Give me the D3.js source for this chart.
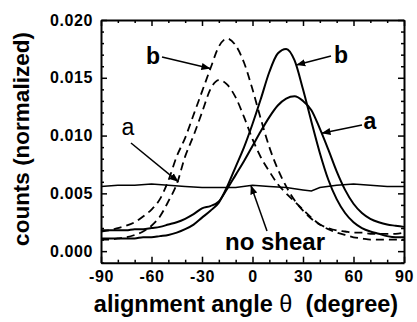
<!DOCTYPE html>
<html>
<head>
<meta charset="utf-8">
<script src="https://cdn.jsdelivr.net/npm/d3@7"></script>
<style>
  body { margin: 0; background: #fff; }
  text { font-family: "Liberation Sans", Arial, sans-serif; }
</style>
</head>
<body>
<script>
// angle samples (degree)
const angles = d3.range(-90, 91, 5)

// one value per angle
const solidA  = [.0018,.0018,.0018,.0018,.0019,.0019,.0020,.0021,.0023,.0025,.0028,.0032,.0037,.0039,.0043,.0054,.0066,.0078,.0091,.0104,.0116,.0126,.0132,.0134,.0130,.0122,.0106,.0088,.0069,.0053,.0041,.0033,.0028,.0025,.0023,.0022,.0021]
const solidB  = [.0011,.0011,.0011,.0011,.0011,.0012,.0012,.0013,.0014,.0016,.0019,.0023,.0029,.0035,.0042,.0056,.0073,.0090,.0110,.0132,.0155,.0171,.0175,.0165,.0140,.0112,.0085,.0062,.0045,.0033,.0025,.0020,.0017,.0015,.0013,.0012,.0012]
const dashedB = [.0017,.0018,.0020,.0022,.0025,.0030,.0036,.0045,.0061,.0082,.0098,.0118,.0138,.0158,.0177,.0184,.0178,.0163,.0140,.0114,.0090,.0071,.0056,.0044,.0035,.0028,.0023,.0020,.0018,.0017,.0016,.0016,.0015,.0015,.0015,.0015,.0016]
const dashedA = [.0010,.0010,.0011,.0012,.0014,.0017,.0022,.0030,.0043,.0058,.0082,.0100,.0120,.0140,.0148,.0144,.0133,.0116,.0097,.0081,.0069,.0058,.0050,.0043,.0036,.0029,.0023,.0019,.0016,.0014,.0012,.0011,.0010,.0010,.0010,.0010,.0010]

// no shear is a bit noisy, own sampling
const flatAngles = [-90,-80,-70,-60,-50,-40,-30,-20,-10,0,10,20,30,35,40,50,60,70,80,90]
const noShear    = [.0056,.0057,.0057,.0058,.0057,.0056,.0055,.0055,.0055,.0057,.0056,.0055,.0053,.0052,.0055,.0057,.0058,.0057,.0056,.0056]

const xMajor = [-90,-60,-30,0,30,60,90]
const yMajor = [0,0.005,0.010,0.015,0.020]

width = 417
height = 322
left = 101
right = 404
top_ = 20
bottom = 262.7

svg = d3.select("body")
    .append("svg")
    .attr("width", width)
    .attr("height", height)

x = d3.scaleLinear().domain([-90, 90]).range([left, right])
y = d3.scaleLinear().domain([-0.001, 0.020]).range([bottom, top_])

// arrow head
svg.append("defs").append("marker")
    .attr("id", "head")
    .attr("viewBox", "0 0 10 10")
    .attr("refX", 10).attr("refY", 5)
    .attr("markerWidth", 9).attr("markerHeight", 9)
    .attr("markerUnits", "userSpaceOnUse")
    .attr("orient", "auto")
  .append("path")
    .attr("d", "M0,1 L10,5 L0,9 Z")
    .attr("fill", "black")

line = d3.line().x(d => x(d[0])).y(d => y(d[1])).curve(d3.curveMonotoneX)
flatLine = d3.line().x(d => x(d[0])).y(d => y(d[1]))

function draw(vals, dashed) {
    svg.append("path")
        .datum(angles.map((a, i) => [a, vals[i]]))
        .attr("d", line)
        .attr("fill", "none")
        .attr("stroke", "black")
        .attr("stroke-width", dashed ? 1.8 : 2)
        .attr("stroke-dasharray", dashed ? "8,5" : null)
}
draw(solidA, false)
draw(solidB, false)
draw(dashedA, true)
draw(dashedB, true)

svg.append("path")
    .datum(flatAngles.map((a, i) => [a, noShear[i]]))
    .attr("d", flatLine)
    .attr("fill", "none")
    .attr("stroke", "black")
    .attr("stroke-width", 1.5)

// axes, ticks pointing inward on all four sides
minorX = d3.range(-90, 91, 10).filter(d => d % 30 != 0)
minorY = d3.range(-1, 21).map(d => d / 1000).filter(d => Math.round(d * 1000) % 5 != 0)

function axis(gen, pos, major, minor, labels, fmt) {
    g = svg.append("g").attr("transform", pos)
    g.call(gen.tickValues(major).tickSizeInner(-6).tickSizeOuter(0).tickPadding(labels ? 8 : 0)
        .tickFormat(labels ? fmt : ""))
    g.append("g").call(gen.tickValues(minor).tickSizeInner(-3).tickFormat(""))
        .select(".domain").remove()
    g.selectAll(".tick line").attr("stroke-width", 1.5)
    g.select(".domain").attr("stroke-width", 2)
    g.selectAll("text")
        .attr("font-size", 16)
        .attr("font-weight", "bold")
        .attr("letter-spacing", 0.6)
        .attr("fill", "black")
}
axis(d3.axisBottom(x), "translate(0," + bottom + ")", xMajor, minorX, true, d => String(d))
axis(d3.axisTop(x), "translate(0," + top_ + ")", xMajor, minorX, false)
axis(d3.axisLeft(y), "translate(" + left + ",0)", yMajor, minorY, true, d3.format(".3f"))
axis(d3.axisRight(y), "translate(" + right + ",0)", yMajor, minorY, false)

// axis titles
svg.append("text")
    .attr("x", 246).attr("y", 312)
    .attr("text-anchor", "middle")
    .attr("font-size", 23.5).attr("font-weight", "bold")
    .text("alignment angle ")
    .append("tspan").attr("font-weight", "normal").text("θ")
    .select(function() { return this.parentNode })
    .append("tspan").text("\u00a0 (degree)")

svg.append("text")
    .attr("transform", "translate(29,139) rotate(-90)")
    .attr("text-anchor", "middle")
    .attr("font-size", 22.5).attr("font-weight", "bold")
    .text("counts (normalized)")

// labels and arrows
function arrow(x1, y1, x2, y2) {
    svg.append("line")
        .attr("x1", x1).attr("y1", y1).attr("x2", x2).attr("y2", y2)
        .attr("stroke", "black").attr("stroke-width", 1.5)
        .attr("marker-end", "url(#head)")
}
function label(t, px, py, bold) {
    svg.append("text")
        .attr("x", px).attr("y", py)
        .attr("text-anchor", "middle")
        .attr("font-size", 23)
        .attr("font-weight", bold ? "bold" : "normal")
        .text(t)
}
label("b", 153, 64, true)
arrow(162, 57, x(-25), y(0.0158))
label("b", 341, 63, true)
arrow(331, 56, x(26), y(0.0161))
label("a", 370, 129, true)
arrow(362, 125, x(41), y(0.0102))
label("a", 128, 135, false)
arrow(131, 143, x(-44), y(0.0060))
svg.append("text")
    .attr("x", 275).attr("y", 250)
    .attr("text-anchor", "middle")
    .attr("font-size", 24).attr("font-weight", "bold")
    .text("no shear")
arrow(267, 231, x(-1), y(0.0057))
</script>
</body>
</html>
